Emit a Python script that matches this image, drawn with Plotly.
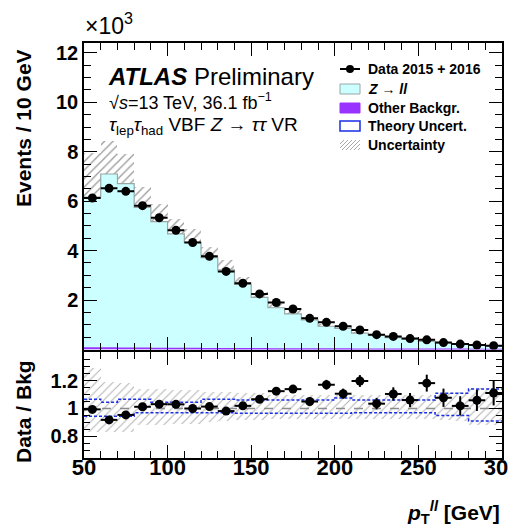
import plotly.graph_objects as go

# ---------------- data (values in units of 10^3 events) ----------------
bin_lo = [50, 60, 70, 80, 90, 100, 110, 120, 130, 140, 150, 160, 170, 180, 190,
          200, 210, 220, 230, 240, 250, 260, 270, 280, 290]
bin_width = 10
data = [6.13, 6.52, 6.40, 5.82, 5.33, 4.82, 4.33, 3.77, 3.16, 2.68, 2.25, 1.90, 1.64,
        1.26, 1.10, 0.94, 0.79, 0.60, 0.53, 0.44, 0.39, 0.28, 0.22, 0.18, 0.15]
data_err = [0.078, 0.081, 0.080, 0.076, 0.073, 0.069, 0.066, 0.061, 0.056, 0.052, 0.047,
            0.044, 0.040, 0.035, 0.033, 0.031, 0.028, 0.024, 0.023, 0.021, 0.020, 0.017,
            0.015, 0.013, 0.012]
zll = [6.11, 7.04, 6.66, 5.70, 5.13, 4.64, 4.29, 3.69, 3.19, 2.60, 2.08, 1.67, 1.42,
       1.18, 0.92, 0.83, 0.65, 0.57, 0.47, 0.405, 0.32, 0.25, 0.206, 0.165, 0.13]
other = [0.06, 0.06, 0.05, 0.05, 0.04, 0.04, 0.04, 0.03, 0.03, 0.03, 0.03, 0.02, 0.02,
         0.02, 0.02, 0.02, 0.01, 0.01, 0.01, 0.01, 0.01, 0.01, 0.01, 0.005, 0.005]
unc_up = [0.29, 0.19, 0.18, 0.14, 0.14, 0.13, 0.13, 0.12, 0.12, 0.11, 0.11, 0.10, 0.10,
          0.10, 0.10, 0.10, 0.10, 0.10, 0.10, 0.10, 0.10, 0.11, 0.12, 0.15, 0.15]
unc_dn = [0.17, 0.165, 0.165, 0.12, 0.12, 0.11, 0.11, 0.10, 0.09, 0.08, 0.08, 0.075, 0.075,
          0.075, 0.075, 0.075, 0.075, 0.075, 0.075, 0.075, 0.075, 0.08, 0.09, 0.12, 0.12]
theo_up = [0.066, 0.045, 0.066, 0.066, 0.045, 0.045, 0.045, 0.066, 0.066, 0.06, 0.06, 0.06,
           0.06, 0.06, 0.06, 0.075, 0.06, 0.06, 0.06, 0.06, 0.06, 0.11, 0.11, 0.14, 0.14]
theo_dn = [0.055, 0.055, 0.055, 0.03, 0.03, 0.03, 0.03, 0.03, 0.03, 0.035, 0.035, 0.035,
           0.035, 0.035, 0.035, 0.035, 0.03, 0.03, 0.03, 0.03, 0.03, 0.05, 0.05, 0.09, 0.09]

x_ticks = [50, 100, 150, 200, 250, 300]
y_ticks = [2, 4, 6, 8, 10, 12]
r_ticks = [0.8, 1, 1.2]
r_ticktext = ["0.8", "1", "1.2"]

# ---------------- derived ----------------
centers = [b + bin_width / 2 for b in bin_lo]
edges = bin_lo + [bin_lo[-1] + bin_width]
total = [z + o for z, o in zip(zll, other)]
ratio = [d / t for d, t in zip(data, total)]
ratio_err = [e / t for e, t in zip(data_err, total)]


def step(vals):
    return vals + [vals[-1]]


FONT = "Liberation Sans"
fig = go.Figure()

# stacked backgrounds (main panel)
fig.add_trace(go.Scatter(x=edges, y=step(total), mode="lines", line_shape="hv",
                         line=dict(color="#9aa6a6", width=1.2), fill="tozeroy",
                         fillcolor="#ccffff", xaxis="x", yaxis="y", hoverinfo="skip"))
fig.add_trace(go.Scatter(x=edges, y=step(other), mode="lines", line_shape="hv",
                         line=dict(color="#9933ff", width=1.5), fill="tozeroy",
                         fillcolor="#9933ff", xaxis="x", yaxis="y", hoverinfo="skip"))
# uncertainty band (main)
fig.add_trace(go.Bar(x=centers, base=[t * (1 - d) for t, d in zip(total, unc_dn)],
                     y=[t * (u + d) for t, u, d in zip(total, unc_up, unc_dn)],
                     width=bin_width, xaxis="x", yaxis="y",
                     marker=dict(color="#9a9a9a", line=dict(width=0),
                                 pattern=dict(shape="/", size=6, solidity=0.22,
                                              fgcolor="#9a9a9a", bgcolor="rgba(0,0,0,0)",
                                              fillmode="replace")),
                     hoverinfo="skip"))
# data (main)
fig.add_trace(go.Scatter(x=centers, y=data, mode="markers", xaxis="x", yaxis="y",
                         marker=dict(color="black", size=9),
                         error_x=dict(type="constant", value=bin_width / 2, width=0,
                                      thickness=2, color="black"),
                         error_y=dict(type="data", array=data_err, width=0,
                                      thickness=2, color="black")))

# ratio panel
fig.add_trace(go.Bar(x=centers, base=[1 - d for d in unc_dn],
                     y=[u + d for u, d in zip(unc_up, unc_dn)],
                     width=bin_width, xaxis="x2", yaxis="y2",
                     marker=dict(color="#b4b4b4", line=dict(width=0),
                                 pattern=dict(shape="/", size=6, solidity=0.18,
                                              fgcolor="#b4b4b4", bgcolor="rgba(0,0,0,0)",
                                              fillmode="replace")),
                     hoverinfo="skip"))
fig.add_trace(go.Scatter(x=[edges[0], edges[-1]], y=[1, 1], mode="lines", xaxis="x2",
                         yaxis="y2", line=dict(color="#8c8c8c", width=1.5, dash="dash")))
fig.add_trace(go.Scatter(x=edges, y=step([1 + u for u in theo_up]), mode="lines",
                         line_shape="hv", xaxis="x2", yaxis="y2",
                         line=dict(color="#1a2ee8", width=1.5, dash="3px,2px")))
fig.add_trace(go.Scatter(x=edges, y=step([1 - d for d in theo_dn]), mode="lines",
                         line_shape="hv", xaxis="x2", yaxis="y2",
                         line=dict(color="#1a2ee8", width=1.5, dash="3px,2px")))
fig.add_trace(go.Scatter(x=centers, y=ratio, mode="markers", xaxis="x2", yaxis="y2",
                         marker=dict(color="black", size=9),
                         error_x=dict(type="constant", value=bin_width / 2, width=0,
                                      thickness=2, color="black"),
                         error_y=dict(type="data", array=ratio_err, width=0,
                                      thickness=2, color="black")))

tickfont = dict(family=FONT, size=20, color="black", weight="bold")
common_x = dict(range=[50, 300], tickmode="array", tickvals=x_ticks, ticks="inside",
                ticklen=13, tickwidth=1.3, tickcolor="black", showline=True,
                linecolor="black", linewidth=1.5, mirror="ticks", showgrid=False,
                zeroline=False, automargin=False, ticklabeloverflow="allow",
                minor=dict(tickmode="linear", tick0=50, dtick=10, ticks="inside",
                           ticklen=7, tickwidth=1.2, tickcolor="black", showgrid=False))
common_y = dict(ticks="inside", ticklen=13, tickwidth=1.3, tickcolor="black",
                showline=True, linecolor="black", linewidth=1.5, mirror="ticks",
                showgrid=False, zeroline=False, automargin=False, tickmode="array",
                tickfont=tickfont)

main_lo = (458 - 349.5) / 415
ratio_hi = (458 - 352) / 415

fig.update_layout(
    width=508, height=530,
    margin=dict(l=84, r=6, t=43, b=72, pad=0),
    paper_bgcolor="white", plot_bgcolor="white",
    showlegend=False, barmode="overlay", bargap=0,
    template="none",
    xaxis=dict(common_x, anchor="y", domain=[0, 1], showticklabels=False, matches="x2"),
    yaxis=dict(common_y, anchor="x", domain=[main_lo, 1], range=[0, 12.4],
               tickvals=y_ticks,
               minor=dict(tickmode="linear", tick0=0, dtick=0.5, ticks="inside",
                          ticklen=7, tickwidth=1.2, tickcolor="black", showgrid=False)),
    xaxis2=dict(common_x, anchor="y2", domain=[0, 1], showticklabels=True,
                tickfont=dict(family=FONT, size=22, color="black", weight="bold"),
                tickangle=0, ticklabelstandoff=-11),
    yaxis2=dict(common_y, anchor="x2", domain=[0, ratio_hi], range=[0.645, 1.405],
                tickvals=r_ticks, ticktext=r_ticktext,
                minor=dict(tickmode="linear", tick0=0.6, dtick=0.05, ticks="inside",
                           ticklen=6, tickwidth=1.2, tickcolor="black", showgrid=False)),
)


def px_x(p):
    return (p - 84) / 418


def px_y(p):
    return (458 - p) / 415


ann = []
ann.append(dict(text="Events / 10 GeV", x=px_x(23), y=px_y(128), textangle=-90,
                font=dict(family=FONT, size=21, color="black", weight="bold")))
ann.append(dict(text="Data / Bkg", x=px_x(23), y=px_y(411), textangle=-90,
                font=dict(family=FONT, size=21, color="black", weight="bold")))
ann.append(dict(text="<i>p</i><sub>T</sub><sup><i>ll</i></sup> [GeV]", x=1, y=px_y(512),
                xanchor="right", font=dict(family=FONT, size=21, color="black", weight="bold")))
ann.append(dict(text="×10<sup>3</sup>", x=px_x(83), y=px_y(24), xanchor="left",
                font=dict(family=FONT, size=23, color="black")))
ann.append(dict(text="<b><i>ATLAS</i></b> Preliminary", x=px_x(106), y=px_y(76),
                xanchor="left", font=dict(family=FONT, size=24, color="black")))
ann.append(dict(text="√<i>s</i>=13 TeV, 36.1 fb<sup>−1</sup>", x=px_x(107), y=px_y(101),
                xanchor="left", font=dict(family=FONT, size=18, color="black")))
ann.append(dict(text="<i>τ</i><sub>lep</sub><i>τ</i><sub>had</sub> VBF <i>Z</i> → <i>ττ</i> VR",
                x=px_x(107), y=px_y(126), xanchor="left",
                font=dict(family=FONT, size=19, color="black")))

leg_labels = ["Data 2015 + 2016", "<i>Z</i> → <i>ll</i>", "Other Backgr.",
              "Theory Uncert.", "Uncertainty"]
leg_y = [69, 89, 108, 126, 145]
for lab, ly in zip(leg_labels, leg_y):
    ann.append(dict(text=lab, x=px_x(366), y=px_y(ly), xanchor="left",
                    font=dict(family=FONT, size=14, color="black", weight="bold")))
for a in ann:
    a.update(xref="paper", yref="paper", showarrow=False, yanchor=a.get("yanchor", "middle"))
    a.setdefault("xanchor", "center")
fig.update_layout(annotations=ann)

shapes = []
bx0, bx1 = px_x(340), px_x(360)
# data symbol
shapes.append(dict(type="line", x0=bx0, x1=bx1, y0=px_y(69), y1=px_y(69),
                   line=dict(color="black", width=2)))
shapes.append(dict(type="circle", x0=px_x(346), x1=px_x(354), y0=px_y(73), y1=px_y(65),
                   fillcolor="black", line=dict(color="black", width=0)))
# Z->ll box
shapes.append(dict(type="rect", x0=bx0, x1=bx1, y0=px_y(94), y1=px_y(84),
                   fillcolor="#ccffff", line=dict(color="#9aa6a6", width=1)))
# other box
shapes.append(dict(type="rect", x0=bx0, x1=bx1, y0=px_y(113), y1=px_y(103),
                   fillcolor="#9933ff", line=dict(color="#9933ff", width=1)))
# theory box
shapes.append(dict(type="rect", x0=bx0, x1=bx1, y0=px_y(131), y1=px_y(121),
                   fillcolor="white", line=dict(color="#1a2ee8", width=1.5)))
# uncertainty hatch box
for k in range(-10, 22, 4):
    xa, ya = 340 + k, 150
    xb, yb = xa + 10, 140
    if xa < 340:
        ya -= (340 - xa)
        xa = 340
    if xb > 360:
        yb += (xb - 360)
        xb = 360
    if xb > xa:
        shapes.append(dict(type="line", x0=px_x(xa), x1=px_x(xb), y0=px_y(ya), y1=px_y(yb),
                           line=dict(color="#a8a8a8", width=1)))
for s in shapes:
    s.update(xref="paper", yref="paper")
fig.update_layout(shapes=shapes)

fig.write_html("out.html")
